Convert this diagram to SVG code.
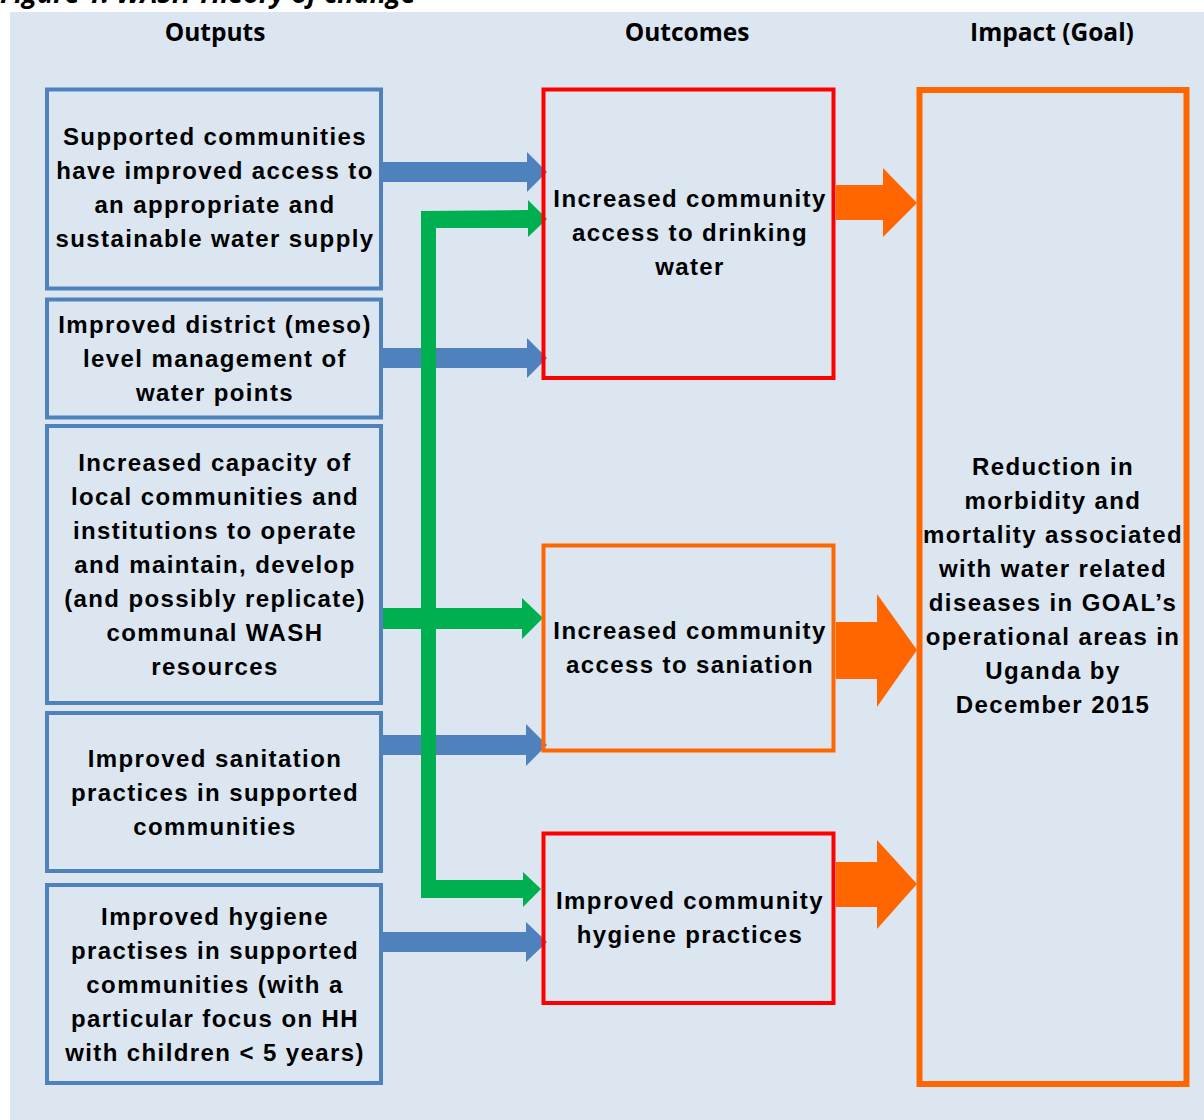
<svg xmlns="http://www.w3.org/2000/svg" width="1204" height="1120" viewBox="0 0 1204 1120">
<defs>
<style>
.bg{fill:#DCE6F1}
.out{fill:none;stroke:#4F81BD;stroke-width:4}
.red{fill:none;stroke:#FF0000;stroke-width:4}
.org{fill:none;stroke:#FF6600;stroke-width:4}
.imp{fill:none;stroke:#FF6600;stroke-width:6}
.t{font-family:"Liberation Sans",Arial,sans-serif;font-weight:bold;font-size:24px;fill:#000;text-anchor:middle;letter-spacing:1.4px}
.h{font-family:"Open Sans","Liberation Sans",sans-serif;font-weight:bold;font-size:24.5px;fill:#000;text-anchor:middle}
.cap{font-family:"Open Sans","Liberation Sans",sans-serif;font-weight:bold;font-style:italic;font-size:27px;fill:#000}
.blue{fill:#4F81BD}
.green{fill:#00B050}
.orange{fill:#FF6600}
</style>
</defs>
<rect x="0" y="0" width="1204" height="1120" fill="#FFFFFF"/>
<rect class="bg" x="10" y="12" width="1194" height="1108"/>
<text class="cap" x="0" y="3">Figure 1: WASH Theory of change</text>
<g id="headers">
<text class="h" x="215" y="41">Outputs</text>
<text class="h" x="687" y="41">Outcomes</text>
<text class="h" x="1052" y="41">Impact (Goal)</text>
</g>
<g id="connectors">
<polygon class="blue" points="383,162 527,162 527,152 547,172 527,192 527,182 383,182"/>
<polygon class="blue" points="383,348 527,348 527,338 547,358 527,378 527,368 383,368"/>
<polygon class="blue" points="383,735 526,735 526,724 547,745 526,766 526,755 383,755"/>
<polygon class="blue" points="383,932 526,932 526,922 547,942 526,962 526,952 383,952"/>
<polygon class="green" points="421,211 528,210 528,200 547,219 528,237 528,228 436,228 436,880 523,880 523,872 541,889 523,907 523,898 421,898"/>
<polygon class="green" points="383,608 522,608 522,598 543,618 522,639 522,629 383,629"/>
<polygon class="orange" points="836,185 883,185 883,168 917,203 883,237 883,220 836,220"/>
<polygon class="orange" points="836,622 877,622 877,594 917,650 877,707 877,679 836,679"/>
<polygon class="orange" points="836,862 877,862 877,840 917,884 877,929 877,907 836,907"/>
</g>
<g id="out1">
<rect class="out" x="47" y="89.5" width="334" height="199"/>
<text class="t" x="215" y="145">Supported communities</text>
<text class="t" x="215" y="179">have improved access to</text>
<text class="t" x="215" y="213">an appropriate and</text>
<text class="t" x="215" y="247">sustainable water supply</text>
</g>
<g id="out2">
<rect class="out" x="47" y="299.5" width="334" height="118"/>
<text class="t" x="215" y="333">Improved district (meso)</text>
<text class="t" x="215" y="367">level management of</text>
<text class="t" x="215" y="401">water points</text>
</g>
<g id="out3">
<rect class="out" x="47" y="426" width="334" height="277"/>
<text class="t" x="215" y="471">Increased capacity of</text>
<text class="t" x="215" y="505">local communities and</text>
<text class="t" x="215" y="539">institutions to operate</text>
<text class="t" x="215" y="573">and maintain, develop</text>
<text class="t" x="215" y="607">(and possibly replicate)</text>
<text class="t" x="215" y="641">communal WASH</text>
<text class="t" x="215" y="675">resources</text>
</g>
<g id="out4">
<rect class="out" x="47" y="713" width="334" height="158"/>
<text class="t" x="215" y="767">Improved sanitation</text>
<text class="t" x="215" y="801">practices in supported</text>
<text class="t" x="215" y="835">communities</text>
</g>
<g id="out5">
<rect class="out" x="47" y="885" width="334" height="198"/>
<text class="t" x="215" y="925">Improved hygiene</text>
<text class="t" x="215" y="959">practises in supported</text>
<text class="t" x="215" y="993">communities (with a</text>
<text class="t" x="215" y="1027">particular focus on HH</text>
<text class="t" x="215" y="1061">with children &lt; 5 years)</text>
</g>
<g id="oc1">
<rect class="red" x="543.5" y="89.5" width="290" height="288.5"/>
<text class="t" x="690" y="207">Increased community</text>
<text class="t" x="690" y="241">access to drinking</text>
<text class="t" x="690" y="275">water</text>
</g>
<g id="oc2">
<rect class="org" x="543.5" y="545.5" width="290" height="205"/>
<text class="t" x="690" y="639">Increased community</text>
<text class="t" x="690" y="673">access to saniation</text>
</g>
<g id="oc3">
<rect class="red" x="543.5" y="833.5" width="290" height="169.5"/>
<text class="t" x="690" y="909">Improved community</text>
<text class="t" x="690" y="943">hygiene practices</text>
</g>
<g id="impact">
<rect class="imp" x="919.5" y="90" width="267" height="994"/>
<text class="t" x="1053" y="475">Reduction in</text>
<text class="t" x="1053" y="509">morbidity and</text>
<text class="t" x="1053" y="543">mortality associated</text>
<text class="t" x="1053" y="577">with water related</text>
<text class="t" x="1053" y="611">diseases in GOAL’s</text>
<text class="t" x="1053" y="645">operational areas in</text>
<text class="t" x="1053" y="679">Uganda by</text>
<text class="t" x="1053" y="713">December 2015</text>
</g>
</svg>
